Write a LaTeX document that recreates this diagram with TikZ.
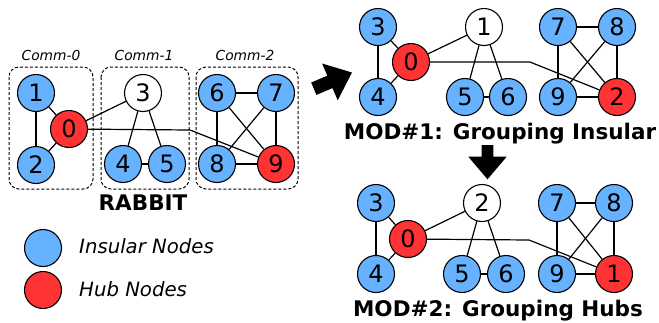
\documentclass[tikz,border=0pt]{standalone}
\usepackage{fontspec}
\setmainfont{DejaVu Sans}
\begin{document}
\begin{tikzpicture}[x=1pt,y=-1pt,
  vtx/.style={circle,draw=black,line width=1.1pt,minimum size=37pt,inner sep=0pt,
    font=\fontsize{24}{24}\selectfont},
  ins/.style={vtx,fill=insblue},
  hub/.style={vtx,fill=hubred},
  plain/.style={vtx,fill=white},
  edge/.style={line width=1.2pt,black},
  commbox/.style={draw=black,dashed,dash pattern=on 3pt off 2pt,line width=1pt,rounded corners=10pt},
  commlbl/.style={anchor=base,inner sep=0pt,font=\fontsize{13.8}{14}\selectfont\itshape},
  title/.style={anchor=base,inner sep=0pt,font=\fontsize{21.5}{22}\selectfont\bfseries},
  leglbl/.style={anchor=base west,inner sep=0pt,font=\fontsize{19.7}{20}\selectfont\itshape},
  bigarrow/.style={fill=black}
]
\definecolor{insblue}{RGB}{102,178,255}
\definecolor{hubred}{RGB}{255,51,51}
\useasboundingbox (0,0) rectangle (659,322);

% ---------- RABBIT (left) ----------
\draw[commbox] (9,67) rectangle (93,189);
\draw[commbox] (101,67) rectangle (189,189);
\draw[commbox] (196,67) rectangle (298,189);
\node[commlbl] (c0) at (51,60) {Comm-0};
\node[commlbl] (c1) at (144,60) {Comm-1};
\node[commlbl] (c2) at (245,60) {Comm-2};

\node[hub]   (L0) at (69,129) {0};
\node[ins]   (L1) at (36,93) {1};
\node[ins]   (L2) at (36,165) {2};
\node[plain] (L3) at (143,93) {3};
\node[ins]   (L4) at (123,164) {4};
\node[ins]   (L5) at (167,164) {5};
\node[ins]   (L6) at (217,93) {6};
\node[ins]   (L7) at (276,93) {7};
\node[ins]   (L8) at (217,164) {8};
\node[hub]   (L9) at (276,164) {9};
\coordinate (Lb) at (190,130);
\draw[edge] (L1) -- (L0);
\draw[edge] (L1) -- (L2);
\draw[edge] (L2) -- (L0);
\draw[edge] (L0) -- (L3);
\draw[edge] (L3) -- (L4);
\draw[edge] (L3) -- (L5);
\draw[edge] (L4) -- (L5);
\draw[edge] (L0) -- (Lb) -- (L9);
\draw[edge] (L6) -- (L7);
\draw[edge] (L6) -- (L8);
\draw[edge] (L6) -- (L9);
\draw[edge] (L7) -- (L8);
\draw[edge] (L7) -- (L9);
\draw[edge] (L8) -- (L9);
\node[title] (rabbit) at (143,210) {RABBIT};

% ---------- Legend ----------
\node[ins] (leg1) at (43,248) {};
\node[hub] (leg2) at (43,290) {};
\node[leglbl] (leg1t) at (79,253) {Insular Nodes};
\node[leglbl] (leg2t) at (79,296.7) {Hub Nodes};

% ---------- MOD#1 ----------
\node[ins]   (A3) at (378,27) {3};
\node[hub]   (A0) at (411,62) {0};
\node[ins]   (A4) at (378,97) {4};
\node[plain] (A1) at (484,27) {1};
\node[ins]   (A5) at (465,97) {5};
\node[ins]   (A6) at (508,97) {6};
\node[ins]   (A7) at (558,27) {7};
\node[ins]   (A8) at (617,27) {8};
\node[ins]   (A9) at (558,97) {9};
\node[hub]   (A2) at (617,97) {2};
\coordinate (Ab) at (530,62);
\draw[edge] (A3) -- (A0);
\draw[edge] (A3) -- (A4);
\draw[edge] (A4) -- (A0);
\draw[edge] (A0) -- (A1);
\draw[edge] (A1) -- (A5);
\draw[edge] (A1) -- (A6);
\draw[edge] (A5) -- (A6);
\draw[edge] (A0) -- (Ab) -- (A2);
\draw[edge] (A7) -- (A8);
\draw[edge] (A7) -- (A9);
\draw[edge] (A7) -- (A2);
\draw[edge] (A8) -- (A9);
\draw[edge] (A8) -- (A2);
\draw[edge] (A9) -- (A2);
\node[title] (mod1) at (500,139.5) {MOD\#1: Grouping Insular};

% ---------- MOD#2 ----------
\node[ins]   (B3) at (376,203) {3};
\node[hub]   (B0) at (408,239) {0};
\node[ins]   (B4) at (376,274) {4};
\node[plain] (B2) at (482,203) {2};
\node[ins]   (B5) at (462,274) {5};
\node[ins]   (B6) at (506,274) {6};
\node[ins]   (B7) at (557,203) {7};
\node[ins]   (B8) at (614,203) {8};
\node[ins]   (B9) at (557,274) {9};
\node[hub]   (B1) at (614,274) {1};
\coordinate (Bb) at (529,240);
\draw[edge] (B3) -- (B0);
\draw[edge] (B3) -- (B4);
\draw[edge] (B4) -- (B0);
\draw[edge] (B0) -- (B2);
\draw[edge] (B2) -- (B5);
\draw[edge] (B2) -- (B6);
\draw[edge] (B5) -- (B6);
\draw[edge] (B0) -- (Bb) -- (B1);
\draw[edge] (B7) -- (B8);
\draw[edge] (B7) -- (B9);
\draw[edge] (B7) -- (B1);
\draw[edge] (B8) -- (B9);
\draw[edge] (B8) -- (B1);
\draw[edge] (B9) -- (B1);
\node[title] (mod2) at (498,316.7) {MOD\#2: Grouping Hubs};

% ---------- Big arrows ----------
\fill[bigarrow] (316.4,94.9) -- (332.5,88.1) -- (337.7,100.3) -- (352,72.5)
  -- (322.1,63.5) -- (327.3,75.7) -- (311.2,82.5) -- cycle;
\fill[bigarrow] (481.7,145) -- (493.3,145) -- (493.3,156.7) -- (506.7,156.7)
  -- (487.5,179.3) -- (468.3,156.7) -- (481.7,156.7) -- cycle;
\end{tikzpicture}
\end{document}
